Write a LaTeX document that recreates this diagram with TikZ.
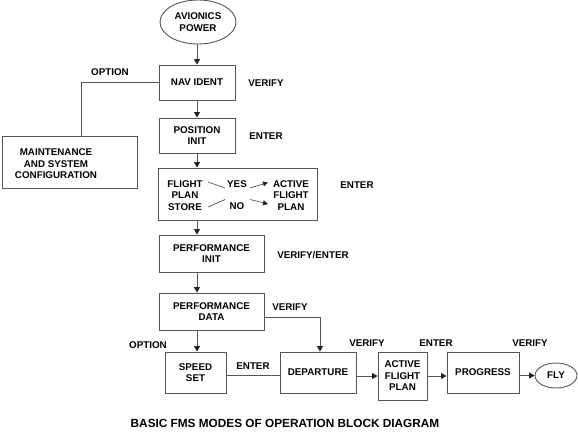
\documentclass[tikz,border=0pt]{standalone}
\usepackage{fontspec}
\setmainfont{Liberation Sans}
\usetikzlibrary{arrows.meta,shapes.geometric}
\definecolor{ln}{HTML}{555555}
\definecolor{hd}{HTML}{222222}
\tikzset{
  lbl/.style={font=\fontsize{9.8}{11.5}\selectfont\bfseries, inner sep=0pt, align=center, text=black},
  blk/.style={draw=ln, line width=0.9pt, inner sep=0pt, align=center, font=\fontsize{9.8}{11.5}\selectfont\bfseries},
  oval/.style={ellipse, draw=ln, line width=0.9pt, inner sep=0pt, align=center, font=\fontsize{9.8}{11.5}\selectfont\bfseries},
  con/.style={draw=ln, line width=0.9pt},
  arr/.style={con, -{Triangle[length=5.5pt,width=6pt,color=hd]}},
}
\begin{document}
\begin{tikzpicture}[x=1pt,y=-1pt]
\useasboundingbox (0,0) rectangle (578,432);
% nodes
\node[oval, minimum width=76pt, minimum height=44pt] (pow) at (198,22) {AVIONICS\\POWER};
\node[blk, minimum width=76pt, minimum height=35pt] (nav) at (197,82.5) {NAV IDENT};
\node[blk, minimum width=76pt, minimum height=35pt] (pos) at (197,135.5) {POSITION\\INIT};
\node[blk, minimum width=135pt, minimum height=52pt] (maint) at (69.5,162) {};
\node[lbl] (maintt) at (56,164) {MAINTENANCE\\AND SYSTEM\\CONFIGURATION};
\node[blk, minimum width=159pt, minimum height=52pt] (fps) at (237.5,194) {};
\node[lbl] (fpsl) at (185,195.5) {FLIGHT\\PLAN\\STORE};
\node[lbl] (yes) at (237,184) {YES};
\node[lbl] (no) at (237,206.5) {NO};
\node[lbl] (afp) at (291,195.5) {ACTIVE\\FLIGHT\\PLAN};
\node[blk, minimum width=105pt, minimum height=37pt] (pinit) at (211.5,253.5) {PERFORMANCE\\INIT};
\node[blk, minimum width=105pt, minimum height=37pt] (pdata) at (211.5,311.5) {PERFORMANCE\\DATA};
\node[blk, minimum width=61pt, minimum height=41pt] (speed) at (195.5,372.5) {SPEED\\SET};
\node[blk, minimum width=76pt, minimum height=41pt] (dep) at (318,372.5) {DEPARTURE};
\node[blk, minimum width=49pt, minimum height=48pt] (afp2) at (402.5,376) {ACTIVE\\FLIGHT\\PLAN};
\node[blk, minimum width=72pt, minimum height=41pt] (prog) at (483,372.5) {PROGRESS};
\node[oval, minimum width=42pt, minimum height=25pt] (fly) at (556,375.5) {FLY};
% labels
\node[lbl] (l1) at (266,83) {VERIFY};
\node[lbl] (l2) at (266,136) {ENTER};
\node[lbl] (l3) at (110,72) {OPTION};
\node[lbl] (l4) at (357,185) {ENTER};
\node[lbl] (l5) at (313,255) {VERIFY/ENTER};
\node[lbl] (l6) at (290,307) {VERIFY};
\node[lbl] (l7) at (148,345) {OPTION};
\node[lbl] (l8) at (253,366) {ENTER};
\node[lbl] (l9) at (367,343) {VERIFY};
\node[lbl] (l10) at (436,343) {ENTER};
\node[lbl] (l11) at (530,343) {VERIFY};
\node[lbl, font=\fontsize{11.8}{13}\selectfont\bfseries] (cap) at (285,423) {BASIC FMS MODES OF OPERATION BLOCK DIAGRAM};
% connectors
\draw[arr] (pow.south -| nav.south) -- (nav.north);
\draw[arr] (nav.south) -- (pos.north);
\draw[arr] (pos.south) -- (pos.south |- fps.north);
\draw[arr] (pos.south |- fps.south) -- (pos.south |- pinit.north);
\draw[arr] (pos.south |- pinit.south) -- (pos.south |- pdata.north);
\draw[arr] (pos.south |- pdata.south) -- (pos.south |- speed.north);
\coordinate (mtop) at ([xshift=80pt]maint.north west);
\draw[con] (nav.west) -| (mtop);
\coordinate (pde) at ([yshift=-5.5pt]pdata.east);
\draw[arr] (pde) -| ([xshift=2pt]dep.north);
\draw[con] ([yshift=-2.5pt]speed.east) -- ([yshift=-2.5pt]dep.west);
\draw[arr] (dep.east |- afp2.west) -- (afp2.west);
\draw[arr] (afp2.east) -- (prog.west |- afp2.east);
\draw[arr] (prog.east |- fly.west) -- (fly.west);
% inner slanted lines
\coordinate (a1) at (208,182); \coordinate (a2) at (225,188);
\coordinate (b1) at (208,207); \coordinate (b2) at (225,199.5);
\coordinate (c1) at (250,188); \coordinate (c2) at (268,182.5);
\coordinate (d1) at (250,199.5); \coordinate (d2) at (268,204);
\draw[con, line width=0.7pt] (a1) -- (a2);
\draw[con, line width=0.7pt] (b1) -- (b2);
\draw[con, line width=0.7pt, -{Triangle[length=5pt,width=5pt,color=hd]}] (c1) -- (c2);
\draw[con, line width=0.7pt, -{Triangle[length=5pt,width=5pt,color=hd]}] (d1) -- (d2);
\end{tikzpicture}
\end{document}
